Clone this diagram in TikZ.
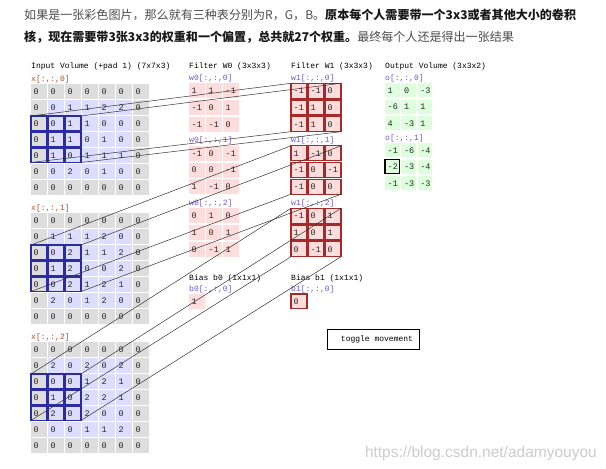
\documentclass[tikz,border=0pt]{standalone}
\usepackage{fontspec}
\setmainfont{Liberation Serif}
\newfontfamily\cjk{Noto Sans CJK SC}
\newfontfamily\monof{Liberation Mono}
\newfontfamily\wmfont{Liberation Sans}
\definecolor{padc}{HTML}{DDDDDD}
\definecolor{inc}{HTML}{DDDDFF}
\definecolor{wc}{HTML}{FFDDDD}
\definecolor{oc}{HTML}{DDFFDD}
\definecolor{winb}{HTML}{2B2BA6}
\definecolor{w1b}{HTML}{A52A2A}
\definecolor{xlab}{HTML}{A0522D}
\definecolor{wlab}{HTML}{6A5ACD}
\definecolor{txt}{HTML}{4D4D4D}
\definecolor{linec}{HTML}{333333}
\newcommand\ingrid[3]{% #1 channel, #2 top y, #3 data
  \node[lbl, text=xlab] (xl#1) at (31,#2-3) {x[:,:,#1]};
  \foreach \row [count=\r from 0] in {#3} {
    \foreach \v [count=\c from 0] in \row {
      \pgfmathtruncatemacro\pad{(\r==0)+(\r==6)+(\c==0)+(\c==6)}
      \ifnum\pad>0 \def\cc{padc}\else\def\cc{inc}\fi
      \fill[\cc] (31+17*\c,#2+16*\r) rectangle ++(16,14.5);
      \node[num] (x#1-\r-\c) at (31+17*\c+2.5,#2+16*\r+7.3) {\v};
    }
  }
  \foreach \r in {2,3,4} \foreach \c in {0,1,2}
    \draw[winb, line width=1.2pt] (31+17*\c,#2+16*\r) rectangle ++(16,14.5);
  \coordinate (x#1-tl) at (31,#2+32);
  \coordinate (x#1-tr) at (81,#2+32);
  \coordinate (x#1-bl) at (31,#2+78.5);
  \coordinate (x#1-br) at (81,#2+78.5);
}
\newcommand\fgrid[6]{% #1 name, #2 x left, #3 top y, #4 data, #5 border, #6 label
  \node[lbl, text=wlab] (#1-lab) at (#2,#3-3) {#6};
  \foreach \row [count=\r from 0] in {#4} {
    \foreach \v [count=\c from 0] in \row {
      \fill[wc] (#2+17*\c,#3+16.7*\r) rectangle ++(16,15);
      \ifnum#5=1 \draw[w1b, line width=1.2pt] (#2+17*\c,#3+16.7*\r) rectangle ++(16,15);\fi
      \node[num] (#1-\r-\c) at (#2+17*\c+2.5,#3+16.7*\r+7.5) {\v};
    }
  }
  \coordinate (#1-tl) at (#2,#3);
  \coordinate (#1-tr) at (#2+50,#3);
  \coordinate (#1-bl) at (#2,#3+48.4);
  \coordinate (#1-br) at (#2+50,#3+48.4);
}
\newcommand\ogrid[4]{% #1 name, #2 top y, #3 data, #4 label
  \node[lbl, text=wlab] (#1-lab) at (385,#2-3) {#4};
  \foreach \row [count=\r from 0] in {#3} {
    \foreach \v [count=\c from 0] in \row {
      \fill[oc] (385+16.3*\c,#2+16.5*\r) rectangle ++(14.8,14);
      \node[num] (#1-\r-\c) at (385+16.3*\c+2.5,#2+16.5*\r+7) {\v};
    }
  }
}
\begin{document}
\begin{tikzpicture}[x=1pt,y=-1pt,
  lbl/.style={font=\monof\fontsize{8}{8}\selectfont, anchor=base west, inner sep=0pt},
  num/.style={font=\monof\fontsize{8.5}{8.5}\selectfont, anchor=west, inner sep=0pt, text=black!85},
  link/.style={draw=linec, line width=0.5pt},
  head/.style={anchor=base west, inner sep=0pt, font=\cjk\fontsize{12.05}{12.05}\selectfont, text=txt}]
\useasboundingbox (0,0) rectangle (606,469);
\fill[white] (0,0) rectangle (606,469);
% header
\node[head] (h1) at (24,19.5) {如果是一张彩色图片，那么就有三种表分别为R，G，B。\textcolor{black!90}{\bfseries 原本每个人需要带一个3x3或者其他大小的卷积}};
\node[head] (h2) at (24,41) {\textcolor{black!90}{\bfseries 核，现在需要带3张3x3的权重和一个偏置，总共就27个权重。}最终每个人还是得出一张结果};
% titles
\node[lbl] (tin) at (31,68) {Input Volume (+pad 1) (7x7x3)};
\node[lbl] (tw0) at (189,68) {Filter W0 (3x3x3)};
\node[lbl] (tw1) at (291,68) {Filter W1 (3x3x3)};
\node[lbl] (tout) at (385,68) {Output Volume (3x3x2)};
% input volume
\ingrid{0}{84}{{0,0,0,0,0,0,0},{0,0,1,1,2,2,0},{0,0,1,1,0,0,0},{0,1,1,0,1,0,0},{0,1,0,1,1,1,0},{0,0,2,0,1,0,0},{0,0,0,0,0,0,0}}
\ingrid{1}{213}{{0,0,0,0,0,0,0},{0,1,1,1,2,0,0},{0,0,2,1,1,2,0},{0,1,2,0,0,2,0},{0,0,2,1,2,1,0},{0,2,0,1,2,0,0},{0,0,0,0,0,0,0}}
\ingrid{2}{342}{{0,0,0,0,0,0,0},{0,2,0,2,0,2,0},{0,0,0,1,2,1,0},{0,1,0,2,2,1,0},{0,2,0,2,0,0,0},{0,0,0,1,1,2,0},{0,0,0,0,0,0,0}}
% filter W0
\fgrid{wa0}{189}{83.3}{{1,1,-1},{-1,0,1},{-1,-1,0}}{0}{w0[:,:,0]}
\fgrid{wa1}{189}{145.8}{{-1,0,-1},{0,0,-1},{1,-1,0}}{0}{w0[:,:,1]}
\fgrid{wa2}{189}{208.3}{{0,1,0},{1,0,1},{0,-1,1}}{0}{w0[:,:,2]}
% filter W1
\fgrid{wb0}{291}{83.3}{{-1,-1,0},{-1,1,0},{-1,1,0}}{1}{w1[:,:,0]}
\fgrid{wb1}{291}{145.8}{{1,-1,0},{-1,0,-1},{-1,0,0}}{1}{w1[:,:,1]}
\fgrid{wb2}{291}{208.3}{{-1,0,1},{1,0,1},{0,-1,0}}{1}{w1[:,:,2]}
% biases
\node[lbl] (tb0) at (189,280) {Bias b0 (1x1x1)};
\node[lbl, text=wlab] (lb0) at (189,291) {b0[:,:,0]};
\fill[wc] (189,294) rectangle ++(16,14.5);
\node[num] (b0v) at (191.5,301.3) {1};
\node[lbl] (tb1) at (291,280) {Bias b1 (1x1x1)};
\node[lbl, text=wlab] (lb1) at (291,291) {b1[:,:,0]};
\fill[wc] (291,294) rectangle ++(16,14.5);
\draw[w1b, line width=1.2pt] (291,294) rectangle ++(16,14.5);
\node[num] (b1v) at (293.5,301.3) {0};
% output
\ogrid{oa}{83.3}{{1,0,-3},{-6,1,1},{4,-3,1}}{o[:,:,0]}
\ogrid{ob}{143.3}{{-1,-6,-4},{-2,-3,-4},{-1,-3,-3}}{o[:,:,1]}
\draw[black, line width=1.1pt] (385,159.8) rectangle ++(14.8,14);
% connectors
\foreach \d in {0,1,2}
  \foreach \k in {tl,tr,bl,br}
    \draw[link] (x\d-\k) -- (wb\d-\k);
% toggle button
\node[draw=black, line width=1pt, minimum width=91.6pt, minimum height=20pt, inner sep=0pt,
  font=\monof\fontsize{8}{8}\selectfont] (tog) at (373.5,339.3) {\hspace*{7pt}toggle movement};
% watermark
\node[font=\wmfont\fontsize{15.5}{15.5}\selectfont, text=black!20, anchor=base east, inner sep=0pt] (wm) at (597,457) {https://blog.csdn.net/adamyouyou};
\end{tikzpicture}
\end{document}
